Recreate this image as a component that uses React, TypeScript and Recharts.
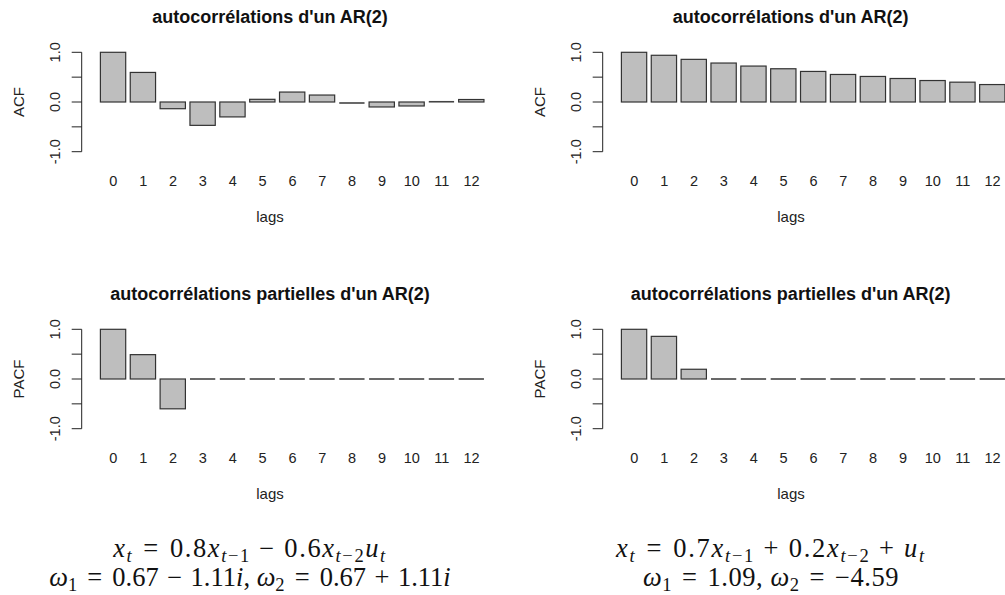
import React from 'react';
import { BarChart, Bar, XAxis, YAxis, Label } from 'recharts';

const lagLabels = ['0', '1', '2', '3', '4', '5', '6', '7', '8', '9', '10', '11', '12'];
const acfLeft = [1.0, 0.595, -0.135, -0.47, -0.3, 0.054, 0.2, 0.14, -0.02, -0.1, -0.08, 0.005, 0.05];
const acfRight = [1.0, 0.94, 0.858, 0.784, 0.723, 0.669, 0.615, 0.554, 0.514, 0.473, 0.432, 0.399, 0.351];
const pacfLeft = [1.0, 0.49, -0.6, 0, 0, 0, 0, 0, 0, 0, 0, 0, 0];
const pacfRight = [1.0, 0.858, 0.196, 0, 0, 0, 0, 0, 0, 0, 0, 0, 0];
const yTicks = [-1, -0.5, 0, 0.5, 1];
const yTickText: Record<string, string> = { '-1': '-1.0', '0': '0.0', '1': '1.0' };
const acfTitle = "autocorrélations d'un AR(2)";
const pacfTitle = "autocorrélations partielles d'un AR(2)";

const SANS = '"Liberation Sans", Arial, sans-serif';
const SERIF = '"Liberation Serif", "Times New Roman", serif';

const toRows = (vals: number[]) => lagLabels.map((lag, i) => ({ lag, v: vals[i] }));

function BarShape(p: any) {
  const { x, y, width, height } = p;
  const top = height < 0 ? y + height : y;
  const h = Math.abs(height);
  if (h < 1) {
    return <line x1={x} x2={x + width} y1={y} y2={y} stroke="#444" strokeWidth={1.6} />;
  }
  return <rect x={x} y={top} width={width} height={h} fill="#bebebe" stroke="#333" strokeWidth={1.2} />;
}

function XTick(p: any) {
  const { x, y, payload } = p;
  return (
    <text x={x} y={y} dy="0.36em" textAnchor="middle" fontSize={14.5} fill="#222" fontFamily={SANS}>
      {payload.value}
    </text>
  );
}

function YTick(p: any) {
  const { x, y, payload } = p;
  const t = yTickText[String(payload.value)];
  if (!t) return null;
  return (
    <text x={x} y={y} transform={`rotate(-90 ${x} ${y})`} textAnchor="middle" fontSize={14.5} fill="#222" fontFamily={SANS}>
      {t}
    </text>
  );
}

type PanelProps = { left: number; top: number; data: number[]; title: string; ylab: string };

function Panel({ left, top, data, title, ylab }: PanelProps) {
  return (
    <div style={{ position: 'absolute', left, top, width: 500, height: 250 }}>
      <div
        style={{
          position: 'absolute', left: 70, top: 6, width: 400, textAlign: 'center',
          fontFamily: SANS, fontWeight: 'bold', fontSize: 18, lineHeight: '22px', color: '#111',
        }}
      >
        {title}
      </div>
      <BarChart
        width={500}
        height={240}
        data={toRows(data)}
        margin={{ top: 52.3, right: 13.5, bottom: 0, left: 0 }}
        style={{ position: 'absolute', left: 0, top: 0 }}
      >
        <XAxis
          dataKey="lag"
          type="category"
          height={88.3}
          padding={{ left: 16.7, right: 0 }}
          axisLine={false}
          tickLine={false}
          tickSize={0}
          tickMargin={29}
          interval={0}
          tick={<XTick />}
        >
          <Label
            content={(lp: any) => {
              const vb = lp.viewBox;
              return (
                <text x={270} y={vb.y + 65} dy="0.36em" textAnchor="middle" fontSize={15} fill="#222" fontFamily={SANS}>
                  lags
                </text>
              );
            }}
          />
        </XAxis>
        <YAxis
          type="number"
          domain={[-1, 1]}
          ticks={yTicks}
          width={81.7}
          tickSize={10}
          tickMargin={11.5}
          interval={0}
          axisLine={{ stroke: '#222', strokeWidth: 1 }}
          tickLine={{ stroke: '#222', strokeWidth: 1 }}
          tick={<YTick />}
        >
          <Label
            content={(lp: any) => {
              const vb = lp.viewBox;
              const cy = vb.y + vb.height / 2;
              return (
                <text x={23.5} y={cy} transform={`rotate(-90 23.5 ${cy})`} textAnchor="middle" fontSize={15} fill="#222" fontFamily={SANS}>
                  {ylab}
                </text>
              );
            }}
          />
        </YAxis>
        <Bar dataKey="v" barSize={25.3} isAnimationActive={false} shape={<BarShape />} />
      </BarChart>
    </div>
  );
}

const Sub = ({ children }: { children: React.ReactNode }) => (
  <span style={{ fontSize: '0.7em', position: 'relative', top: '0.26em' }}>{children}</span>
);
const Rel = ({ children }: { children: React.ReactNode }) => (
  <span style={{ margin: '0 0.38em' }}>{children}</span>
);
const Bin = ({ children }: { children: React.ReactNode }) => (
  <span style={{ margin: '0 0.32em' }}>{children}</span>
);
const I = ({ children }: { children: React.ReactNode }) => <i>{children}</i>;

const eqStyle: React.CSSProperties = {
  position: 'absolute', width: 500, textAlign: 'center', fontFamily: SERIF, fontSize: 26.5,
  lineHeight: '30px', color: '#111', whiteSpace: 'nowrap',
};

export default function App() {
  return (
    <div style={{ position: 'absolute', left: 0, top: 0, width: 1005, height: 595, overflow: 'hidden', background: '#fff' }}>
      <Panel left={0} top={0} data={acfLeft} title={acfTitle} ylab="ACF" />
      <Panel left={520.7} top={0} data={acfRight} title={acfTitle} ylab="ACF" />
      <Panel left={0} top={277} data={pacfLeft} title={pacfTitle} ylab="PACF" />
      <Panel left={520.7} top={277} data={pacfRight} title={pacfTitle} ylab="PACF" />

      <div style={{ ...eqStyle, left: 0, top: 533, letterSpacing: '0.06em' }}>
        <I>x</I><Sub><I>t</I></Sub><Rel>=</Rel>0.8<I>x</I><Sub><I>t</I>−1</Sub><Bin>−</Bin>0.6<I>x</I><Sub><I>t</I>−2</Sub><I>u</I><Sub><I>t</I></Sub>
      </div>
      <div style={{ ...eqStyle, left: 0, top: 562 }}>
        <I>ω</I><Sub>1</Sub><Rel>=</Rel>0.67<Bin>−</Bin>1.11<I>i</I>, <I>ω</I><Sub>2</Sub><Rel>=</Rel>0.67<Bin>+</Bin>1.11<I>i</I>
      </div>
      <div style={{ ...eqStyle, left: 521, top: 533, letterSpacing: '0.065em' }}>
        <I>x</I><Sub><I>t</I></Sub><Rel>=</Rel>0.7<I>x</I><Sub><I>t</I>−1</Sub><Bin>+</Bin>0.2<I>x</I><Sub><I>t</I>−2</Sub><Bin>+</Bin><I>u</I><Sub><I>t</I></Sub>
      </div>
      <div style={{ ...eqStyle, left: 521, top: 562, letterSpacing: '0.02em' }}>
        <I>ω</I><Sub>1</Sub><Rel>=</Rel>1.09, <I>ω</I><Sub>2</Sub><Rel>=</Rel>−4.59
      </div>
    </div>
  );
}
